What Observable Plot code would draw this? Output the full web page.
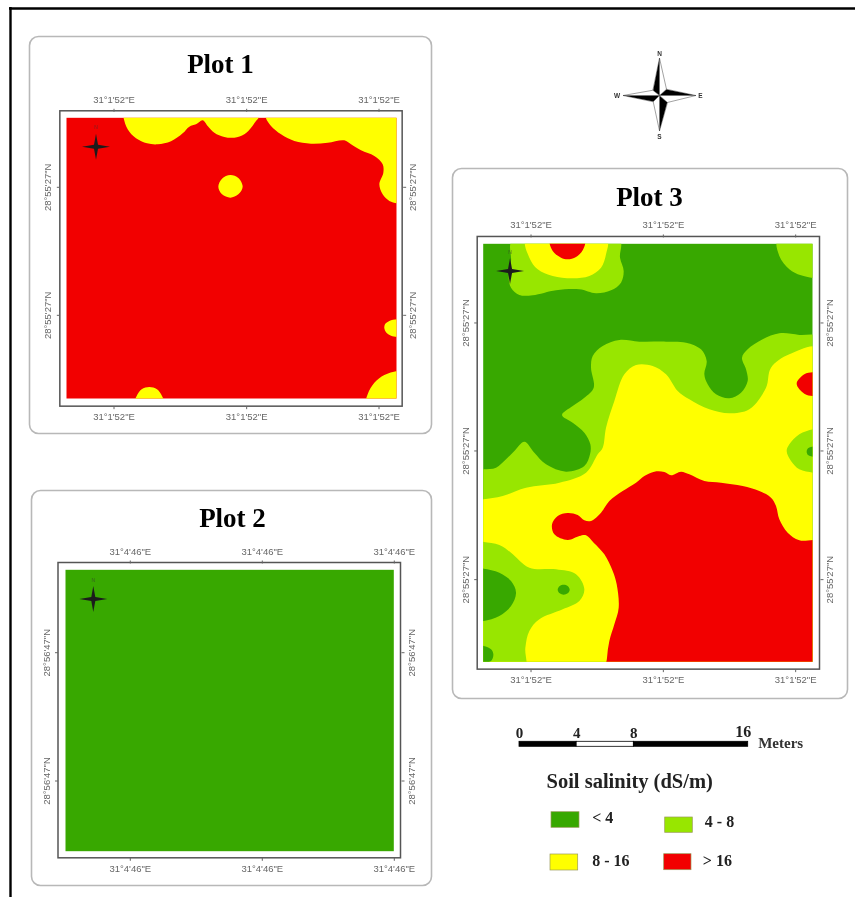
<!DOCTYPE html>
<html>
<head>
<meta charset="utf-8">
<script src="https://cdn.jsdelivr.net/npm/d3@7"></script>
<script src="https://cdn.jsdelivr.net/npm/@observablehq/plot@0.6"></script>
<style>
html,body{margin:0;padding:0;background:#fff;}
#stage{position:relative;width:855px;height:897px;overflow:hidden;filter:blur(0.4px);}
#stage svg{position:absolute;background:transparent;max-width:none;}
</style>
</head>
<body>
<div id="stage"></div>
<script>
// Class colours and legend
const salinityLabels = ["< 4", "4 - 8", "8 - 16", "> 16"];
const salinityColors = ["#38A800", "#98E600", "#FFFF00", "#F20000"];
const [GREEN, LIME, YELLOW, RED] = salinityColors;

// Tick labels
const lonLabel13 = `31°1'52"E`;
const lonLabel2 = `31°4'46"E`;
const latLabel13 = `28°55'27"N`;
const latLabel2 = `28°56'47"N`;

// Scale bar (metres)
const scaleStops = [0, 4, 8, 16];
const scaleSegments = [[0, 4, "#000"], [4, 8, "#fff"], [8, 16, "#000"]];

// Plot 1 contours (map units), > 16 background
const p1YellowA = [[306,245],[308,262],[320,295],[345,322],[378,337],[410,340],[450,331],[485,307],[505,287],[525,280],[545,268],[560,285],[580,305],[610,318],[640,320],[670,310],[692,288],[705,270],[712,262],[713,245]];
const p1YellowB = [[733,245],[735,262],[750,285],[780,310],[820,330],[870,338],[920,335],[970,328],[990,340],[1020,358],[1060,375],[1085,400],[1087,425],[1075,460],[1085,490],[1105,510],[1128,517],[1150,520],[1150,245]];
const p1YellowDot = [[592,467],[603,443],[628,432],[652,441],[665,467],[652,490],[628,500],[603,490]];
const p1YellowBottom = [[338,1125],[347,1095],[362,1075],[385,1068],[408,1075],[423,1095],[432,1125]];
const p1YellowRight = [[1150,866],[1128,865],[1105,870],[1092,880],[1090,892],[1095,904],[1110,914],[1128,918],[1150,920]];
const p1YellowCorner = [[1035,1125],[1040,1090],[1060,1055],[1090,1032],[1128,1020],[1155,1018],[1155,1125]];

// Plot 3 contours (map units), < 4 background
const p3LimeTL = [[200,235],[195,300],[188,350],[195,380],[220,402],[260,403],[330,388],[400,385],[450,397],[495,388],[525,365],[533,330],[522,290],[520,235]];
const p3YellowTL = [[240,235],[250,290],[275,325],[320,345],[380,352],[430,345],[465,320],[480,280],[482,235]];
const p3RedTL = [[312,235],[320,270],[345,290],[365,295],[390,288],[410,268],[416,235]];
const p3LimeTR = [[995,235],[1000,285],[1030,325],[1065,343],[1125,347],[1125,235]];
const p3LimeBand = [[1125,533],[1060,522],[1000,517],[950,535],[905,565],[888,590],[900,625],[905,660],[885,695],[850,712],[810,700],[785,670],[775,640],[782,600],[765,565],[720,545],[660,542],[580,542],[520,537],[470,555],[440,585],[435,620],[443,680],[415,710],[380,735],[348,762],[380,785],[415,815],[433,850],[432,880],[415,915],[360,932],[300,910],[265,875],[235,842],[205,870],[180,895],[150,920],[113,925],[90,925],[90,1540],[1125,1540]];
const p3YellowBig = [[1125,563],[1030,580],[975,620],[960,680],[910,745],[850,757],[790,745],[730,715],[695,690],[660,640],[620,615],[570,612],[535,640],[505,720],[480,800],[470,860],[455,880],[420,935],[340,965],[240,980],[170,1005],[113,1015],[90,1017],[90,1540],[1125,1540]];
const p3LimeBL = [[90,1143],[113,1143],[160,1152],[195,1175],[250,1220],[330,1225],[390,1240],[415,1285],[400,1320],[350,1345],[280,1375],[250,1410],[238,1460],[236,1530],[90,1530]];
const p3GreenBL = [[90,1223],[113,1223],[160,1235],[195,1260],[210,1295],[195,1335],[160,1365],[113,1380],[90,1382]];
const p3GreenDot = [[335,1286],[341,1275],[353,1271],[365,1275],[371,1286],[365,1297],[353,1301],[341,1297]];
const p3GreenCorner = [[90,1455],[113,1455],[135,1465],[142,1480],[135,1500],[113,1505],[90,1505]];
const p3LimeR = [[1125,803],[1101,805],[1060,820],[1030,850],[1022,870],[1035,900],[1060,925],[1101,935],[1125,937]];
const p3GreenR = [[1082,872],[1086,862],[1095,858],[1115,858],[1115,886],[1095,886],[1086,882]];
const p3RedR = [[1125,634],[1100,634],[1075,640],[1052,668],[1075,698],[1100,705],[1125,705]];
const p3RedBig = [[1130,1146],[1060,1138],[1025,1115],[1000,1075],[990,1035],[975,1010],[940,990],[890,975],[825,965],[775,960],[730,940],[705,932],[675,943],[655,933],[625,932],[595,945],[570,965],[530,990],[490,1020],[465,1055],[435,1080],[415,1078],[395,1062],[365,1056],[335,1065],[318,1090],[325,1120],[365,1137],[400,1125],[420,1123],[443,1145],[475,1180],[500,1230],[512,1270],[518,1340],[505,1390],[490,1440],[483,1490],[483,1540],[1130,1540]];

// Compass rose (large, page units): pinwheel of black and white half-arms
const roseBlack = [
  [[659,58],[659,95],[652.7,90]],
  [[695,95],[659,95],[665.7,89]],
  [[659,130],[659,95],[666.7,101.7]],
  [[623,95],[659,95],[653,101]]
];
const roseWhite = [
  [[659,58],[659,95],[665.7,89]],
  [[695,95],[659,95],[666.7,101.7]],
  [[659,130],[659,95],[653,101]],
  [[623,95],[659,95],[652.7,90]]
];
const roseLetters = ["N", "S", "W", "E"];
const roseLetterX = [659, 659, 616.5, 700];
const roseLetterY = [53, 136.5, 95, 95];

// Small star carried by each map (pixels around its centre)
const starShape = [[0,-13],[2,-2],[14,0],[2,2],[0,13],[-2,2],[-14,0],[-2,-2]];

const SERIF = "Liberation Serif";
const SANS = "Liberation Sans";
const stage = document.getElementById("stage");

function place(svg, left, top) {
  svg.style.left = left + "px";
  svg.style.top = top + "px";
  stage.appendChild(svg);
}

function panel(o) {
  const [l, t, r, b] = o.card, [x0, y0, x1, y1] = o.map;
  const kx = (o.domX[1] - o.domX[0]) / (x1 - x0);
  const ky = (o.domY[1] - o.domY[0]) / (y1 - y0);
  const [fl, ft, fr, fb] = o.frame;
  const pad = {left: (o.domX[0] - fl) / kx, right: (fr - o.domX[1]) / kx, top: (o.domY[0] - ft) / ky, bottom: (fb - o.domY[1]) / ky};
  const fill = (poly, color) => Plot.line(poly, {curve: "catmull-rom-closed", fill: color, stroke: "none", clip: "frame"});
  const star = starShape.map(([dx, dy]) => [o.star[0] + dx * kx, o.star[1] + dy * ky]);
  const svg = Plot.plot({
    width: r - l, height: b - t,
    marginLeft: x0 - l, marginRight: r - x1, marginTop: y0 - t, marginBottom: b - y1,
    x: {domain: o.domX},
    y: {domain: [o.domY[1], o.domY[0]]},
    style: {fontFamily: SANS, fontSize: "9.5px", color: "#666", background: "transparent"},
    marks: [
      Plot.rect([0], {x1: o.domX[0], x2: o.domX[1], y1: o.domY[0], y2: o.domY[1], fill: o.base}),
      ...o.layers.map(([poly, color]) => fill(poly, color)),
      Plot.line(star, {curve: "linear-closed", fill: "#1c1c1c", stroke: "none"}),
      Plot.text(["N"], {x: o.star[0], y: o.star[1] - 19 * ky, fontSize: 5, fill: "#333", opacity: 0.6}),
      Plot.rect([0], {x1: fl, x2: fr, y1: ft, y2: fb, fill: "none", stroke: "#555", strokeWidth: 1.5}),
      Plot.axisX(o.ticksX, {anchor: "top", label: null, tickSize: 3, tickPadding: 5.5, tickFormat: () => o.lon, dy: -pad.top}),
      Plot.axisX(o.ticksX, {anchor: "bottom", label: null, tickSize: 3, tickPadding: 4, tickFormat: () => o.lon, dy: pad.bottom}),
      Plot.axisY(o.ticksY, {anchor: "left", label: null, tickSize: 3, tickPadding: 6, tickRotate: -90, tickFormat: () => o.lat, dx: -pad.left}),
      Plot.axisY(o.ticksY, {anchor: "right", label: null, tickSize: 3, tickPadding: 10.5, tickRotate: -90, tickFormat: () => o.lat, dx: pad.right})
    ]
  });
  place(svg, l, t);
}

// Page layer: outer rule, cards, titles, rose and legend
const cards = [[29.5, 36.5, 431.5, 433.5], [31.5, 490.5, 431.5, 885.5], [452.5, 168.5, 847.5, 698.5]];
const titles = ["Plot 1", "Plot 2", "Plot 3"];
const titleX = [220, 232, 649];
const titleY = [72, 526, 205];
const swatchBoxes = [[551, 811.7, 579, 827.3], [664.7, 817, 692.3, 832.3], [550, 854, 577.7, 870], [663.7, 853.7, 691, 869.7]];
const legendTextX = [591.7, 704.3, 591.7, 702.3];
const legendTextY = [822.7, 826.7, 865.7, 865.7];

place(Plot.plot({
  width: 855, height: 897, margin: 0,
  x: {domain: [0, 855], axis: null},
  y: {domain: [897, 0], axis: null},
  style: {background: "transparent"},
  marks: [
    Plot.ruleY([8], {x1: 9, x2: 855, stroke: "#000", strokeWidth: 2.4}),
    Plot.ruleX([10], {y1: 7, y2: 897, stroke: "#000", strokeWidth: 2.4}),
    Plot.rect(cards, {x1: d => d[0], y1: d => d[1], x2: d => d[2], y2: d => d[3], rx: 9, fill: "#fff", stroke: "#b8b8b8", strokeWidth: 1.6}),
    Plot.text(titles, {x: (d, i) => titleX[i], y: (d, i) => titleY[i], text: d => d, lineAnchor: "bottom", fontFamily: SERIF, fontWeight: "bold", fontSize: 27, fill: "#000"}),
    ...roseBlack.map(p => Plot.line(p, {curve: "linear-closed", fill: "#000", stroke: "#000", strokeWidth: 0.4})),
    ...roseWhite.map(p => Plot.line(p, {curve: "linear-closed", fill: "#fff", stroke: "#444", strokeWidth: 0.5})),
    Plot.text(roseLetters, {x: (d, i) => roseLetterX[i], y: (d, i) => roseLetterY[i], text: d => d, fontFamily: SANS, fontWeight: "bold", fontSize: 6.5, fill: "#333"}),
    Plot.text(["Soil salinity (dS/m)"], {x: 546, y: 787.3, text: d => d, textAnchor: "start", lineAnchor: "bottom", fontFamily: SERIF, fontWeight: "bold", fontSize: 20.5, fill: "#222"}),
    Plot.rect(swatchBoxes, {x1: d => d[0], y1: d => d[1], x2: d => d[2], y2: d => d[3], fill: (d, i) => salinityColors[i], stroke: "#9a9a5a", strokeWidth: 0.7}),
    Plot.text(salinityLabels, {x: (d, i) => legendTextX[i], y: (d, i) => legendTextY[i], text: d => d, textAnchor: "start", lineAnchor: "bottom", fontFamily: SERIF, fontWeight: "bold", fontSize: 16, fill: "#222"})
  ]
}), 0, 0);

panel({
  card: cards[0], map: [66, 117.3, 396, 398],
  domX: [138, 1128], domY: [262, 1104], frame: [118, 241, 1145, 1127],
  ticksX: [279, 677, 1074], ticksY: [469, 853], lon: lonLabel13, lat: latLabel13,
  base: RED, star: [225, 347],
  layers: [[p1YellowA, YELLOW], [p1YellowB, YELLOW], [p1YellowDot, YELLOW], [p1YellowBottom, YELLOW], [p1YellowRight, YELLOW], [p1YellowCorner, YELLOW]]
});

panel({
  card: cards[1], map: [65, 569.3, 393.3, 850.7],
  domX: [65, 393.3], domY: [569.3, 850.7], frame: [57.5, 562, 400, 857.3],
  ticksX: [129.3, 261.3, 393.3], ticksY: [651.7, 780], lon: lonLabel2, lat: latLabel2,
  base: GREEN, star: [92.3, 598],
  layers: []
});

panel({
  card: cards[2], map: [482.7, 243.3, 812, 661.3],
  domX: [113, 1101], domY: [250, 1504], frame: [95, 228, 1122, 1526],
  ticksX: [255, 652, 1049], ticksY: [486, 870, 1256], lon: lonLabel13, lat: latLabel13,
  base: GREEN, star: [192, 330],
  layers: [
    [p3LimeTL, LIME], [p3YellowTL, YELLOW], [p3RedTL, RED], [p3LimeTR, LIME],
    [p3LimeBand, LIME], [p3YellowBig, YELLOW], [p3LimeBL, LIME], [p3GreenBL, GREEN],
    [p3GreenDot, GREEN], [p3GreenCorner, GREEN], [p3LimeR, LIME], [p3GreenR, GREEN],
    [p3RedR, RED], [p3RedBig, RED]
  ]
});

// Scale bar, drawn on a metre scale
place(Plot.plot({
  width: 320, height: 50, margin: 0,
  x: {domain: [0, 16], range: [19, 247.7], axis: null},
  y: {domain: [0, 1], range: [36.3, 31.3], axis: null},
  style: {background: "transparent"},
  marks: [
    Plot.rect(scaleSegments, {x1: d => d[0], x2: d => d[1], y1: 0, y2: 1, fill: d => d[2], stroke: "#000", strokeWidth: 0.8}),
    Plot.text(scaleStops.slice(0, 3), {x: d => d, y: 1, dy: -4, lineAnchor: "bottom", text: d => String(d), fontFamily: SERIF, fontWeight: "bold", fontSize: 15, fill: "#222"}),
    Plot.text(scaleStops.slice(3), {x: d => d, y: 1, dy: -5, dx: -5, lineAnchor: "bottom", text: d => String(d), fontFamily: SERIF, fontWeight: "bold", fontSize: 16, fill: "#222"}),
    Plot.text(["Meters"], {x: 16, y: 0, dx: 10, dy: 1.4, textAnchor: "start", lineAnchor: "bottom", text: d => d, fontFamily: SERIF, fontWeight: "bold", fontSize: 15, fill: "#333"})
  ]
}), 500, 710);
</script>
</body>
</html>
